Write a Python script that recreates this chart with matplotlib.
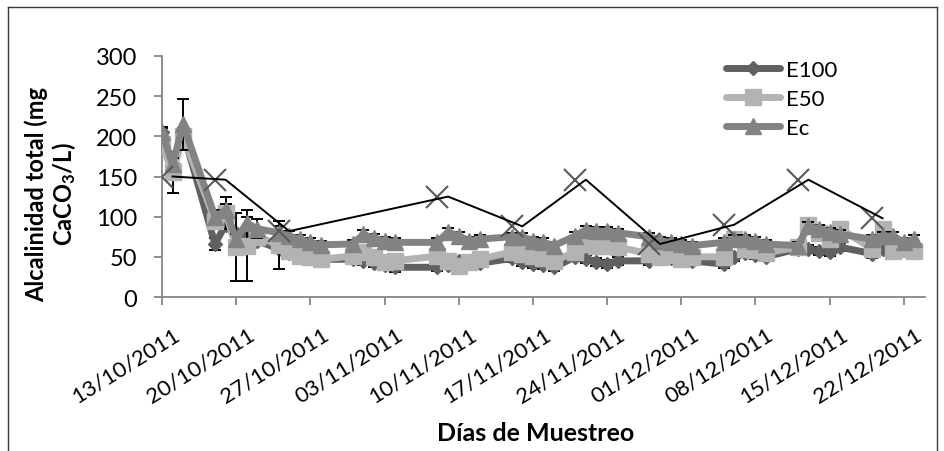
import matplotlib
matplotlib.use("Agg")
import matplotlib.pyplot as plt
import matplotlib.dates as mdates
import matplotlib.transforms as mtransforms
from matplotlib.lines import Line2D
import pandas as pd

plt.rcParams['font.family'] = ['Lato', 'DejaVu Sans']

# sampling dates
fechas = pd.to_datetime([
    '2011-10-13', '2011-10-14', '2011-10-15',
    '2011-10-18', '2011-10-19', '2011-10-20', '2011-10-21', '2011-10-22',
    '2011-10-24', '2011-10-25', '2011-10-26', '2011-10-27', '2011-10-28',
    '2011-10-31', '2011-11-01', '2011-11-02', '2011-11-03', '2011-11-04',
    '2011-11-08', '2011-11-09', '2011-11-10', '2011-11-11', '2011-11-12',
    '2011-11-15', '2011-11-16', '2011-11-17', '2011-11-18', '2011-11-19',
    '2011-11-21', '2011-11-22', '2011-11-23', '2011-11-24', '2011-11-25',
    '2011-11-28', '2011-11-29', '2011-11-30', '2011-12-01', '2011-12-02',
    '2011-12-05', '2011-12-06', '2011-12-07', '2011-12-08', '2011-12-09',
    '2011-12-12', '2011-12-13', '2011-12-14', '2011-12-15', '2011-12-16',
    '2011-12-19', '2011-12-20', '2011-12-21', '2011-12-22', '2011-12-23',
])

e100 = [205, 165, 205,
        66, 90, 80, 75, 70,
        60, 55, 50, 48, 47,
        47, 45, 42, 40, 37,
        37, 40, 45, 44, 42,
        48, 44, 41, 40, 37,
        50, 47, 44, 41, 45,
        45, 50, 48, 47, 45,
        41, 50, 55, 52, 50,
        60, 60, 57, 56, 62,
        54, 60, 62, 65, 62]
e100_err = [5, 5, 5,
            8, 5, 5, 5, 5,
            5, 5, 5, 5, 5,
            5, 5, 5, 5, 6,
            5, 5, 5, 5, 5,
            5, 5, 5, 5, 5,
            5, 5, 5, 5, 5,
            5, 5, 5, 5, 5,
            5, 5, 5, 5, 5,
            5, 5, 5, 5, 5,
            5, 5, 5, 5, 5]

e50 = [190, 155, 200,
       95, 105, 62, 64, 75,
       65, 57, 51, 50, 47,
       51, 56, 50, 44, 45,
       51, 45, 39, 44, 47,
       56, 54, 51, 48, 45,
       56, 66, 64, 64, 62,
       54, 50, 52, 47, 50,
       50, 72, 60, 58, 55,
       62, 90, 80, 72, 85,
       60, 85, 57, 60, 57]
e50_err = [6, 25, 6,
           10, 20, 42, 44, 10,
           30, 6, 5, 5, 5,
           5, 5, 5, 5, 5,
           5, 5, 5, 5, 5,
           5, 5, 5, 5, 5,
           5, 5, 5, 5, 5,
           5, 5, 5, 5, 5,
           5, 5, 5, 5, 5,
           5, 5, 5, 5, 5,
           5, 5, 5, 5, 5]

ec = [205, 165, 215,
      100, 108, 72, 92, 85,
      80, 76, 72, 68, 65,
      66, 78, 73, 70, 68,
      68, 81, 76, 70, 72,
      75, 75, 70, 68, 64,
      76, 84, 82, 82, 80,
      75, 70, 68, 66, 64,
      68, 72, 72, 70, 66,
      64, 88, 85, 81, 78,
      72, 76, 76, 68, 72]
ec_err = [6, 8, 32,
          8, 8, 6, 8, 12,
          8, 6, 5, 5, 5,
          5, 5, 5, 5, 5,
          5, 5, 5, 5, 5,
          5, 5, 5, 5, 5,
          5, 5, 5, 5, 5,
          5, 5, 5, 5, 5,
          5, 5, 5, 5, 5,
          5, 5, 5, 5, 5,
          5, 5, 5, 5, 5]

# weekly reference values (markers) and their trace (line, one day later)
fechas_ref = pd.to_datetime(['2011-10-13', '2011-10-18', '2011-10-24', '2011-11-08',
                             '2011-11-15', '2011-11-21', '2011-11-28', '2011-12-05',
                             '2011-12-12', '2011-12-19'])
fechas_linea = pd.to_datetime(['2011-10-14', '2011-10-19', '2011-10-25', '2011-11-09',
                               '2011-11-16', '2011-11-22', '2011-11-29', '2011-12-06',
                               '2011-12-13', '2011-12-20'])
referencia = [150, 146, 82, 125, 88, 146, 66, 90, 146, 98]

series = [('E100', e100, e100_err, '#606060', 'D', 7.5),
          ('E50', e50, e50_err, '#b3b3b3', 's', 11.5),
          ('Ec', ec, ec_err, '#838383', '^', 12)]

fig = plt.figure(figsize=(9.45, 4.52), dpi=100)
ax = fig.add_axes([0.1714, 0.3407, 0.8074, 0.5332])

handles = []
for z, (nombre, vals, err, col, mk, ms) in enumerate(series):
    ax.errorbar(fechas, vals, yerr=err, color=col, lw=5, marker=mk, ms=ms, mec=col,
                ecolor='black', elinewidth=1.4, capsize=4, capthick=1.4,
                solid_joinstyle='round', solid_capstyle='round', zorder=2 + z)
    handles.append(Line2D([], [], color=col, lw=5, marker=mk, ms=ms, mec=col,
                          solid_capstyle='round', label=nombre))

ax.plot(fechas_ref, referencia, ls='none', marker='x', ms=16, mew=1.5,
        color='#595959', zorder=6)
ax.plot(fechas_linea, referencia, color='black', lw=1.4, zorder=7)

ax.set_ylim(0, 300)
ax.set_yticks(range(0, 301, 50))
ax.set_xlim(pd.Timestamp('2011-10-13'), pd.Timestamp('2011-12-24'))
ax.set_xticks(pd.date_range('2011-10-13', '2011-12-22', freq='7D'))
ax.xaxis.set_major_formatter(mdates.DateFormatter('%d/%m/%Y'))

for s in ['top', 'right']:
    ax.spines[s].set_visible(False)
for s in ['left', 'bottom']:
    ax.spines[s].set_color('#868686')
    ax.spines[s].set_linewidth(1.3)
ax.tick_params(axis='both', colors='#868686', length=6, width=1.3, labelcolor='black')
ax.tick_params(axis='y', labelsize=17, pad=12)
ax.tick_params(axis='x', labelsize=16, pad=13)

offset = mtransforms.ScaledTranslation(0.11, 0, fig.dpi_scale_trans)
for lbl in ax.get_xticklabels():
    lbl.set_rotation(32)
    lbl.set_ha('right')
    lbl.set_va('top')
    lbl.set_rotation_mode('anchor')
    lbl.set_transform(lbl.get_transform() + offset)

ax.legend(handles=handles, loc='upper left', bbox_to_anchor=(0.728, 1.02), frameon=False,
          fontsize=16, handlelength=2.4, handletextpad=0.3, labelspacing=0.4,
          borderaxespad=0)

fig.text(0.054, 0.57, 'Alcalinidad total (mg\nCaCO$\\mathregular{_3}$/L)', rotation=90,
         ha='center', va='center', multialignment='center', fontsize=17, fontweight='bold',
         linespacing=1.1)
fig.text(0.567, 0.042, 'Días de Muestreo', ha='center', va='center', fontsize=18,
         fontweight='bold')

# chart frame
x0, x1, y1 = 8 / 945, 937 / 945, 1 - 8 / 452
for xs, ys in [([x0, x0], [0, y1]), ([x0, x1], [y1, y1]), ([x1, x1], [0, y1])]:
    fig.add_artist(Line2D(xs, ys, color='#3a3a3a', lw=1, transform=fig.transFigure))

fig.savefig('out.png', dpi=100)
